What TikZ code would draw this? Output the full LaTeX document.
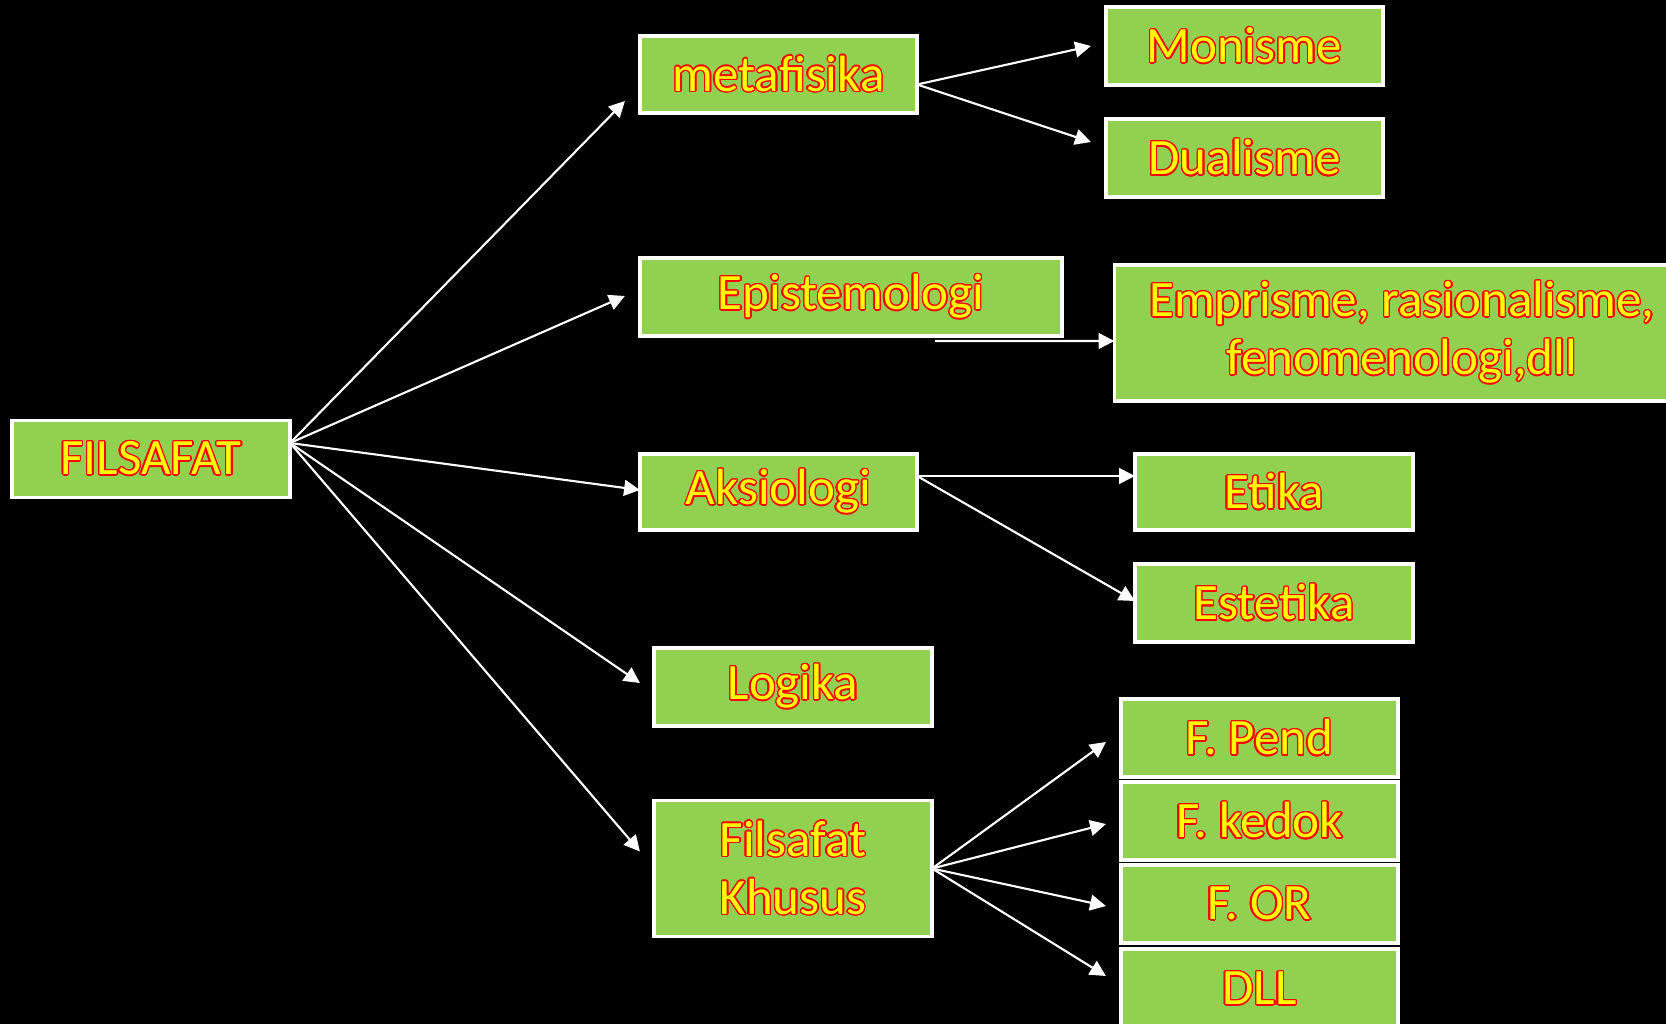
\documentclass[tikz,border=0pt]{standalone}
\usepackage{fontspec}
\setmainfont{Carlito}
\usepackage{xcolor}
\usepackage[copies]{contour}
\usepackage{tikz}
\usetikzlibrary{arrows.meta,positioning,calc}
\definecolor{leaf}{RGB}{146,208,80}
\definecolor{inkRed}{RGB}{255,0,0}
\definecolor{inkYel}{RGB}{255,255,0}
\contourlength{0.4pt}
\newcommand{\outl}[1]{\contour{inkRed}{\textcolor{inkYel}{#1}}}

\begin{document}
\begin{tikzpicture}[x=0.01cm,y=-0.01cm,
  box/.style={draw=white,line width=1pt,fill=leaf,inner sep=0pt,outer sep=0pt,
    minimum width=2.77cm,minimum height=0.77cm,align=center,
    font=\fontsize{14.5}{16.5}\selectfont},
  link/.style={draw=white,line width=0.6pt,-{Triangle[length=4.5pt,width=4.5pt]}}]
  % black slide, pixel grid of the picture
  \fill[black] (0,0) rectangle (1666,1024);
  \useasboundingbox (0,0) rectangle (1666,1024);

  % root and first level
  \node[box,minimum width=2.78cm] (fil) at (151,459) {\outl{FILSAFAT}};
  \node[box] (meta) at (778.5,74.5) {\outl{metafisika}};
  \node[box,minimum width=4.22cm,minimum height=0.78cm] (epi) at (851,297) {\outl{Epistemologi}};
  \node[box,minimum height=0.76cm] (aks) at (778.5,492) {\outl{Aksiologi}};
  \node[box,minimum width=2.78cm,minimum height=0.78cm] (log) at (793,687) {\outl{Logika}};
  \node[box,minimum width=2.78cm,minimum height=1.36cm] (khu) at (793,868.5)
    {\outl{Filsafat}\\\outl{Khusus}};

  % second level
  \node[box,minimum height=0.78cm] (mon) at (1244.5,46) {\outl{Monisme}};
  \node[box,minimum height=0.78cm] (dua) at (1244.5,158) {\outl{Dualisme}};
  \node[box,minimum width=5.75cm,minimum height=1.36cm] (emp) at (1402,333)
    {\outl{Emprisme, rasionalisme,}\\\outl{fenomenologi,dll}};
  \node[box,minimum width=2.78cm,minimum height=0.76cm] (eti) at (1274,492) {\outl{Etika}};
  \node[box,minimum width=2.78cm,minimum height=0.78cm] (est) at (1274,603) {\outl{Estetika}};
  \node[box,minimum height=0.78cm] (pend) at (1259.5,738) {\outl{F. Pend}};
  \node[box,minimum height=0.78cm] (ked) at (1259.5,821) {\outl{F. kedok}};
  \node[box,minimum height=0.78cm] (for) at (1259.5,904) {\outl{F. OR}};
  \node[box,minimum height=0.80cm] (dll) at (1259.5,989) {\outl{DLL}};

  % connectors from FILSAFAT
  \draw[link] ([shift={(0,-16)}]fil.east) -- ([shift={(-15,-12)}]meta.south west);
  \draw[link] ([shift={(0,-16)}]fil.east) -- ([shift={(-15,-1)}]epi.west);
  \draw[link] ([shift={(0,-16)}]fil.east) -- ([shift={(0,-2)}]aks.west);
  \draw[link] ([shift={(0,-16)}]fil.east) -- ([shift={(-14,-4)}]log.west);
  \draw[link] ([shift={(0,-16)}]fil.east) -- ([shift={(-14,-17)}]khu.west);

  % connectors of the branches
  \draw[link] ([shift={(0,10)}]meta.east) -- ([shift={(-15,0)}]mon.west);
  \draw[link] ([shift={(0,10)}]meta.east) -- ([shift={(-15,-16)}]dua.west);
  \draw[link] ([shift={(84,5)}]epi.south) -- ([shift={(0,8)}]emp.west);
  \draw[link] ([shift={(0,-16)}]aks.east) -- ([shift={(0,-16)}]eti.west);
  \draw[link] ([shift={(0,-16)}]aks.east) -- ([shift={(0,-2)}]est.west);
  \draw[link] (khu.east) -- ([shift={(-15,4)}]pend.west);
  \draw[link] (khu.east) -- ([shift={(-15,3)}]ked.west);
  \draw[link] (khu.east) -- ([shift={(-15,2)}]for.west);
  \draw[link] (khu.east) -- ([shift={(-15,-13)}]dll.west);
\end{tikzpicture}
\end{document}
